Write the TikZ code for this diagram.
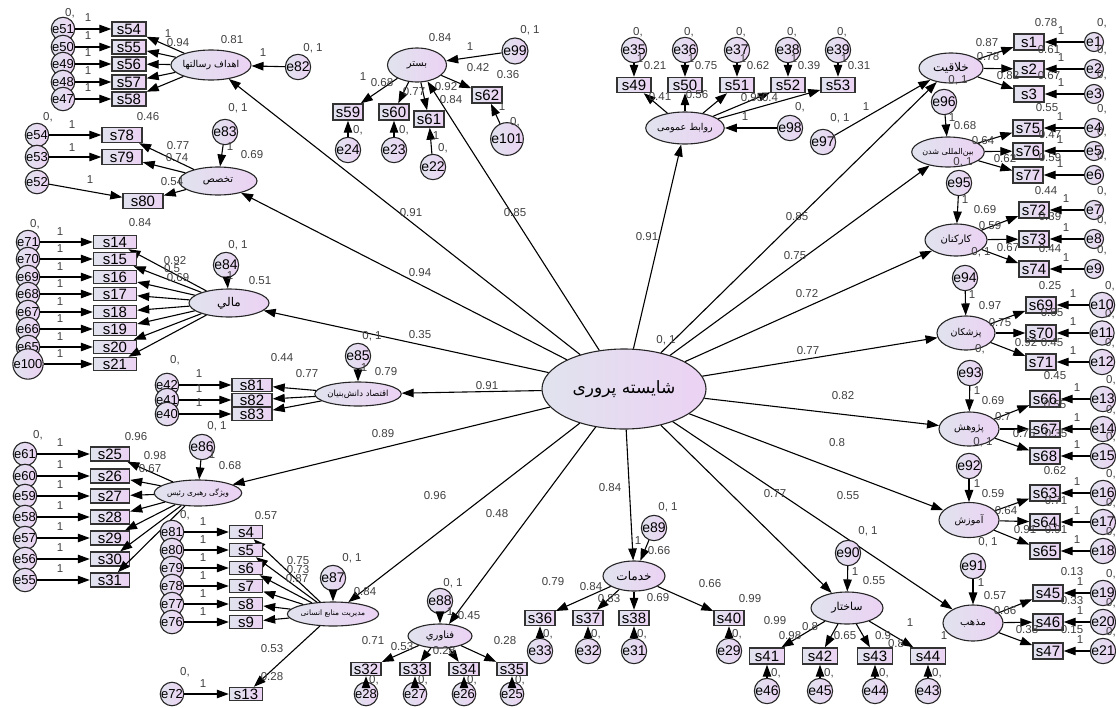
\documentclass[tikz,border=0pt]{standalone}
\usepackage{fontspec}
\setmainfont{Liberation Sans}
\newfontfamily\farsi[Script=Arabic]{DejaVu Sans}
\TeXXeTstate=1
\usetikzlibrary{arrows.meta,shapes.geometric}
\definecolor{shadeL}{RGB}{224,227,238}
\definecolor{shadeR}{RGB}{236,210,244}
\tikzstyle{latent}=[
	ellipse,
	draw=black!85,
	line width=1.1pt,
	left color=shadeL,
	right color=shadeR,
	inner sep=0pt,
	font=\farsi\fontsize{9.5}{10}\selectfont
]
\tikzstyle{obs}=[
	rectangle,
	draw=black!80,
	line width=1.4pt,
	left color=shadeL,
	right color=shadeR,
	inner sep=0pt,
	font=\fontsize{15}{15}\selectfont
]
\tikzstyle{err}=[
	circle,
	draw=black!85,
	line width=1.1pt,
	left color=shadeL,
	right color=shadeR,
	inner sep=0pt,
	font=\fontsize{14}{14}\selectfont
]
\tikzstyle{errs}=[
	err,
	minimum size=14pt,
	font=\fontsize{13}{13}\selectfont
]
\tikzstyle{causal}=[
	-{Triangle[length=12pt,width=8.5pt]},
	line width=1.1pt
]
\tikzstyle{est}=[
	inner sep=0pt,
	text=black!75,
	font=\fontsize{11.5}{12}\selectfont
]
\begin{document}
\begin{tikzpicture}[x=1pt,y=-1pt]
\useasboundingbox (0,0) rectangle (1116,707);

% second order factor and first order factors
\node [latent, minimum width=164pt, minimum height=80pt, font=\farsi\fontsize{17}{18}\selectfont] (core) at (624,389) {\beginR شایسته پروری\endR};
\node [latent, minimum width=72pt, minimum height=30pt] (goals) at (211,65) {\beginR اهداف رسالتها\endR};
\node [latent, minimum width=78pt, minimum height=28pt, font=\farsi\fontsize{10}{11}\selectfont] (expert) at (218,181) {\beginR تخصص\endR};
\node [latent, minimum width=80pt, minimum height=28pt, font=\farsi\fontsize{12}{13}\selectfont] (finance) at (229,303) {\beginR مالي\endR};
\node [latent, minimum width=84pt, minimum height=24pt, font=\farsi\fontsize{8.5}{9}\selectfont] (economy) at (358,394) {\beginR اقتصاد دانش‌بنیان\endR};
\node [latent, minimum width=72pt, minimum height=26pt, font=\farsi\fontsize{7.5}{8}\selectfont] (leader) at (198,493) {\beginR ویژگی رهبری رئیس\endR};
\node [latent, minimum width=68pt, minimum height=24pt, font=\farsi\fontsize{7.5}{8}\selectfont] (hrm) at (333,614) {\beginR مدیریت منابع انسانی\endR};
\node [latent, minimum width=64pt, minimum height=24pt, font=\farsi\fontsize{10}{11}\selectfont] (tech) at (440,636) {\beginR فناوري\endR};
\node [latent, minimum width=62pt, minimum height=30pt, font=\farsi\fontsize{12}{13}\selectfont] (service) at (634,576) {\beginR خدمات\endR};
\node [latent, minimum width=72pt, minimum height=32pt, font=\farsi\fontsize{11}{12}\selectfont] (struct) at (847,608) {\beginR ساختار\endR};
\node [latent, minimum width=60pt, minimum height=36pt, font=\farsi\fontsize{10}{11}\selectfont] (religion) at (973,623) {\beginR مذهب\endR};
\node [latent, minimum width=64pt, minimum height=30pt, font=\farsi\fontsize{12}{13}\selectfont] (creative) at (951,68) {\beginR خلاقیت\endR};
\node [latent, minimum width=70pt, minimum height=30pt, font=\farsi\fontsize{8}{9}\selectfont] (global) at (948,152) {\beginR بین‌المللی شدن\endR};
\node [latent, minimum width=62pt, minimum height=32pt, font=\farsi\fontsize{10}{11}\selectfont] (staff) at (956,240) {\beginR کارکنان\endR};
\node [latent, minimum width=58pt, minimum height=34pt] (doctors) at (966,333) {\beginR پزشکان\endR};
\node [latent, minimum width=60pt, minimum height=34pt] (research) at (969,429) {\beginR پژوهش\endR};
\node [latent, minimum width=60pt, minimum height=35pt] (teach) at (969,520) {\beginR آموزش\endR};
\node [latent, minimum width=68pt, minimum height=32pt] (pr) at (685,128) {\beginR روابط عمومی\endR};
\node [latent, minimum width=59pt, minimum height=34pt, font=\farsi\fontsize{10}{11}\selectfont] (context) at (417,65) {\beginR بستر\endR};

\foreach \lat in {goals,expert,finance,economy,leader,hrm,tech,service,struct,religion,teach,research,doctors,staff,global,creative,pr,context}
	\draw [causal] (core) -- (\lat);

% disturbances of the factors
\foreach \e/\x/\y/\d/\lat in {82/298/67/24/goals, 83/225/132/24/expert, 84/226/265/20/finance, 85/358/356/20/economy,
	86/202/447/22/leader, 87/333/578/20/hrm, 88/440/601/20/tech, 89/654/528/22/service, 90/848/553/24/struct,
	91/973/566/24/religion, 92/969/466/24/teach, 93/970/373/24/research, 94/965/278/24/doctors, 95/959/183/24/staff,
	96/944/102/22/global, 97/823/142/24/creative, 98/790/128/24/pr, 99/515/51/26/context}{
	\node [err, minimum size=\d pt] (e\e) at (\x,\y) {e\e};
	\draw [causal] (e\e) -- (\lat);
}

% left side indicators
\foreach \s/\e/\y in {54/51/29, 55/50/47, 56/49/64, 57/48/82, 58/47/99}{
	\node [obs, minimum width=34pt, minimum height=14pt] (s\s) at (129,\y) {s\s};
	\node [errs] (e\e) at (63,\y) {e\e};
	\draw [causal] (e\e) -- (s\s);
	\draw [causal] (goals) -- (s\s);
	\node [est] at (88,\y-11) {1};
}
\node [obs, minimum width=40pt, minimum height=15pt] (s78) at (122,135) {s78};
\node [obs, minimum width=40pt, minimum height=15pt] (s79) at (122,157) {s79};
\node [obs, minimum width=40pt, minimum height=15pt] (s80) at (143,201) {s80};
\node [errs] (e54) at (37,135) {e54};
\node [errs] (e53) at (37,157) {e53};
\node [errs] (e52) at (37,182) {e52};
\foreach \s/\e in {78/54, 79/53, 80/52}{
	\draw [causal] (e\e) -- (s\s);
	\draw [causal] (expert) -- (s\s);
}
\foreach \s/\e/\y in {14/71/242, 15/70/259, 16/69/277, 17/68/294, 18/67/312, 19/66/329, 20/65/347, 21/100/364}{
	\node [obs, minimum width=43pt, minimum height=13pt] (s\s) at (115,\y) {s\s};
	\node [errs] (e\e) at (28,\y) {e\e};
	\draw [causal] (e\e) -- (s\s);
	\draw [causal] (finance) -- (s\s);
	\node [est] at (60,\y-10) {1};
}
\foreach \s/\e/\y in {81/42/385, 82/41/400, 83/40/414}{
	\node [obs, minimum width=40pt, minimum height=13pt] (s\s) at (252,\y) {s\s};
	\node [errs] (e\e) at (167,\y) {e\e};
	\draw [causal] (e\e) -- (s\s);
	\draw [causal] (economy) -- (s\s);
	\node [est] at (199,\y-11) {1};
}
\foreach \s/\e/\y in {25/61/454, 26/60/476, 27/59/496, 28/58/517, 29/57/538, 30/56/559, 31/55/580}{
	\node [obs, minimum width=39pt, minimum height=14pt] (s\s) at (110,\y) {s\s};
	\node [errs] (e\e) at (25,\y) {e\e};
	\draw [causal] (e\e) -- (s\s);
	\draw [causal] (leader) -- (s\s);
	\node [est] at (60,\y-11) {1};
}
\foreach \s/\e/\y in {4/81/532, 5/80/550, 6/79/568, 7/78/586, 8/77/604, 9/76/622, 13/72/694}{
	\node [obs, minimum width=33pt, minimum height=13pt] (s\s) at (246,\y) {s\s};
	\node [errs] (e\e) at (172,\y) {e\e};
	\draw [causal] (e\e) -- (s\s);
	\draw [causal] (hrm) -- (s\s);
	\node [est] at (203,\y-10) {1};
}

% bottom indicators
\foreach \s/\e/\x in {32/28/366, 33/27/415, 34/26/464, 35/25/512}{
	\node [obs, minimum width=30pt, minimum height=13pt] (s\s) at (\x,669) {s\s};
	\node [errs] (e\e) at (\x,694) {e\e};
	\draw [causal] (e\e) -- (s\s);
	\draw [causal] (tech) -- (s\s);
	\node [est] at (\x+8,680) {0,};
}
\foreach \s/\e/\x in {36/33/540, 37/32/588, 38/31/634, 40/29/729}{
	\node [obs, minimum width=30pt, minimum height=15pt] (s\s) at (\x,618) {s\s};
	\node [err, minimum size=16pt] (e\e) at (\x,651) {e\e};
	\draw [causal] (e\e) -- (s\s);
	\draw [causal] (service) -- (s\s);
	\node [est] at (\x+8,634) {0,};
}
\foreach \s/\e/\x in {41/46/767, 42/45/820, 43/44/875, 44/43/928}{
	\node [obs, minimum width=35pt, minimum height=16pt] (s\s) at (\x,656) {s\s};
	\node [err, minimum size=18pt] (e\e) at (\x,691) {e\e};
	\draw [causal] (e\e) -- (s\s);
	\draw [causal] (struct) -- (s\s);
	\node [est] at (\x+9,673) {0,};
}

% right side indicators
\foreach \s/\e/\y/\lat/\bx/\ex in {45/19/593/religion/1048/1103, 46/20/622/religion/1048/1103, 47/21/651/religion/1048/1103,
	1/1/42/creative/1029/1094, 2/2/69/creative/1029/1094, 3/3/94/creative/1029/1094,
	75/4/128/global/1028/1094, 76/5/151/global/1028/1094, 77/6/175/global/1028/1094,
	72/7/210/staff/1034/1094, 73/8/239/staff/1034/1094, 74/9/269/staff/1034/1094,
	69/10/305/doctors/1041/1102, 70/11/333/doctors/1041/1102, 71/12/362/doctors/1041/1102,
	66/13/399/research/1045/1103, 67/14/429/research/1045/1103, 68/15/456/research/1045/1103,
	63/16/493/teach/1045/1103, 64/17/522/teach/1045/1103, 65/18/551/teach/1045/1103}{
	\node [obs, minimum width=30pt, minimum height=16pt] (s\s) at (\bx,\y) {s\s};
	\node [err, minimum size=19pt] (e\e) at (\ex,\y) {e\e};
	\draw [causal] (e\e) -- (s\s);
	\draw [causal] (\lat) -- (s\s);
	\node [est] at (\bx+32,\y-11) {1};
	\node [est] at (\ex+8,\y-19) {0,};
}

% top indicators
\foreach \s/\e/\x/\r in {49/35/634/0.21, 50/36/685/0.75, 51/37/737/0.62, 52/38/788/0.39, 53/39/838/0.31}{
	\node [obs, minimum width=34pt, minimum height=15pt] (s\s) at (\x,85) {s\s};
	\node [err, minimum size=16pt] (e\e) at (\x,50) {e\e};
	\draw [causal] (e\e) -- (s\s);
	\draw [causal] (pr) -- (s\s);
	\node [est] at (\x+4,32) {0,};
	\node [est] at (\x+6,59) {1};
	\node [est] at (\x+21,66) {\r};
}
\node [obs, minimum width=30pt, minimum height=16pt] (s59) at (348,112) {s59};
\node [obs, minimum width=30pt, minimum height=16pt] (s60) at (394,112) {s60};
\node [obs, minimum width=30pt, minimum height=16pt] (s61) at (429,119) {s61};
\node [obs, minimum width=30pt, minimum height=16pt] (s62) at (487,95) {s62};
\node [err, minimum size=18pt] (e24) at (348,150) {e24};
\node [err, minimum size=18pt] (e23) at (394,150) {e23};
\node [err, minimum size=18pt] (e22) at (433,167) {e22};
\node [err, minimum size=18pt] (e101) at (507,139) {e101};
\foreach \s/\e in {59/24, 60/23, 61/22, 62/101}{
	\draw [causal] (e\e) -- (s\s);
	\draw [causal] (context) -- (s\s);
}

% estimates
\foreach \x/\y/\t in {666/340/{0, 1}, 411/213/0.91, 420/273/0.94, 420/335/0.35, 487/386/0.91, 383/434/0.89,
	435/496/0.96, 497/514/0.48, 610/488/0.84, 775/494/0.77, 848/496/0.55, 837/443/0.8, 843/396/0.82,
	808/351/0.77, 807/294/0.72, 795/256/0.75, 797/217/0.85, 647/237/0.91, 515/213/0.85,
	70/13/{0,}, 232/40/0.81, 313/48/{0, 1}, 263/53/1, 168/34/1, 178/43/0.94,
	48/117/{0,}, 72/125/1, 72/148/1, 90/180/1, 148/117/0.46, 178/146/0.77, 177/158/0.74, 172/182/0.54,
	238/108/{0, 1}, 230/147/1, 252/155/0.69,
	35/224/{0,}, 140/223/0.84, 175/261/0.92, 172/269/0.5, 178/278/0.69, 238/245/{0, 1}, 230/276/1, 260/281/0.51,
	175/360/{0,}, 282/358/0.44, 307/374/0.77, 372/336/{0, 1}, 364/368/1, 386/372/0.79,
	38/435/{0,}, 136/437/0.96, 155/456/0.98, 150/469/0.67, 217/426/{0, 1}, 212/455/1, 230/466/0.68,
	185/515/{0,}, 266/516/0.57, 298/561/0.75, 298/570/0.73, 297/579/0.87, 365/592/0.84, 352/558/{0, 1},
	272/649/0.53, 272/677/0.28, 185/672/{0,},
	373/641/0.71, 402/647/0.53, 444/651/0.28, 505/641/0.28, 453/583/{0, 1}, 450/612/1, 469/616/0.45,
	553/582/0.79, 591/587/0.84, 609/599/0.83, 658/598/0.69, 710/584/0.66, 750/599/0.99,
	668/507/{0, 1}, 638/541/1, 659/551/0.66,
	775/621/0.99, 790/636/0.98, 810/627/0.8, 845/636/0.65, 883/636/0.9, 896/644/0.8, 910/623/1,
	868/531/{0, 1}, 855/572/1, 874/581/0.55,
	1072/572/0.13, 1072/601/0.33, 1072/630/0.15, 995/596/0.57, 1005/611/0.66, 1027/630/0.38, 944/636/1, 981/583/1,
	1046/23/0.78, 1049/50/0.61, 1049/76/0.67, 987/43/0.87, 988/57/0.78, 1008/76/0.82, 958/80/{0, 1},
	840/118/{0, 1}, 866/107/1,
	1047/108/0.55, 1050/135/0.47, 1050/158/0.59, 965/126/0.68, 983/141/0.64, 1005/159/0.62, 963/162/{0, 1}, 952/118/1,
	1046/191/0.44, 1050/217/0.39, 1050/249/0.44, 985/210/0.69, 990/226/0.59, 1008/248/0.67, 981/252/{0, 1}, 965/200/1,
	1050/286/0.25, 1052/313/0.65, 1052/343/0.45, 990/306/0.97, 1000/323/0.75, 1026/343/0.92, 980/349/{0,}, 972/295/1,
	1055/376/0.45, 1055/405/0.55, 1056/434/0.35, 993/401/0.69, 1003/417/0.7, 1024/434/0.75, 983/442/{0, 1}, 977/391/1,
	1055/471/0.62, 1056/501/0.71, 1056/530/0.91, 993/494/0.59, 1006/511/0.64, 1025/530/0.91, 988/542/{0, 1}, 977/484/1,
	660/97/0.41, 697/95/0.56, 752/98/0.95, 770/98/0.4, 800/107/{0,}, 745/117/1,
	440/38/0.84, 530/30/{0, 1}, 470/47/1, 363/77/1, 382/83/0.68, 414/92/0.77, 446/87/0.92, 451/100/0.84,
	478/68/0.42, 508/75/0.36, 358/130/{0,}, 404/130/{0,}, 436/136/1, 443/148/{0,}, 502/107/1, 515/122/{0,}}
	\node [est] at (\x,\y) {\t};
\end{tikzpicture}
\end{document}
